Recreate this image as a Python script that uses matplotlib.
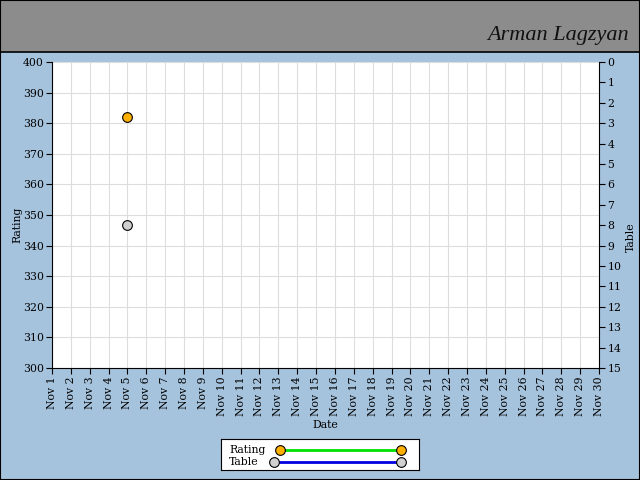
import matplotlib
matplotlib.use("Agg")
import matplotlib.pyplot as plt
from matplotlib.lines import Line2D
from matplotlib.patches import Rectangle

# data
days = list(range(1, 31))
day_labels = ["Nov %d" % d for d in days]
rating_days = [5]
rating_values = [382]
table_days = [5]
table_values = [8]

bg = "#a6c3dd"
header_gray = "#8c8c8c"
font = "DejaVu Serif"
fs = 7.8

fig = plt.figure(figsize=(6.4, 4.8), dpi=100, facecolor=bg)

# header band with name
fig.patches.append(Rectangle((0, 1 - 52 / 480), 1, 52 / 480, transform=fig.transFigure,
                             facecolor=header_gray, edgecolor="black", linewidth=1.2, zorder=0))
fig.patches.append(Rectangle((0, 0), 1, 1, transform=fig.transFigure,
                             facecolor="none", edgecolor="black", linewidth=1.5, zorder=5))
fig.text(0.983, 1 - 40 / 480, "Arman Lagzyan", ha="right", va="baseline",
         fontsize=16, family="Liberation Serif", style="italic", color="#111111")

ax = fig.add_axes([52 / 640, 1 - 368 / 480, 547 / 640, 306 / 480])
ax.set_facecolor("white")
ax.set_xlim(1, 30)
ax.set_ylim(300, 400)
ax.set_xticks(days)
ax.set_xticklabels(day_labels, rotation=90, fontsize=fs, family=font)
ax.set_yticks(range(300, 401, 10))
ax.tick_params(axis="y", labelsize=fs, direction="out", length=4, pad=2)
ax.tick_params(axis="x", direction="out", length=4, pad=2)
for lab in ax.get_yticklabels():
    lab.set_family(font)
ax.grid(True, color="#dddddd", linewidth=0.8)
ax.set_axisbelow(True)
ax.spines["top"].set_visible(False)
ax.spines["right"].set_visible(False)
ax.set_xlabel("Date", fontsize=fs, family=font)
ax.xaxis.set_label_coords(0.5, -0.17)
ax.set_ylabel("Rating", fontsize=fs, family=font)
ax.yaxis.set_label_coords(-0.055, 0.467)

ax2 = ax.twinx()
ax2.set_ylim(15, 0)
ax2.set_yticks(range(0, 16))
ax2.tick_params(axis="y", labelsize=fs, direction="out", length=4, pad=2)
for lab in ax2.get_yticklabels():
    lab.set_family(font)
ax2.spines["top"].set_visible(False)
ax2.spines["left"].set_visible(False)
ax2.spines["bottom"].set_visible(False)
ax2.set_ylabel("Table", fontsize=fs, family=font)
ax2.yaxis.set_label_coords(1.05, 0.428)

ax.plot(rating_days, rating_values, color="#00e000", linewidth=2, marker="o",
        markersize=7, markerfacecolor="#ffb000", markeredgecolor="black",
        markeredgewidth=0.8, zorder=5, clip_on=False)
ax2.plot(table_days, table_values, color="#0000e0", linewidth=2, marker="o",
         markersize=7, markerfacecolor="#d0d0d0", markeredgecolor="black",
         markeredgewidth=0.8, zorder=5, clip_on=False)

# legend box
lg = fig.add_axes([221 / 640, 1 - 470 / 480, 198 / 640, 31 / 480])
lg.set_xlim(221, 419)
lg.set_ylim(470, 439)
lg.set_xticks([])
lg.set_yticks([])
lg.set_facecolor("white")
for s in lg.spines.values():
    s.set_linewidth(0.8)
lg.text(229, 450, "Rating", va="center", ha="left", fontsize=fs, family=font)
lg.text(229, 462, "Table", va="center", ha="left", fontsize=fs, family=font)
lg.add_line(Line2D([280, 401], [450, 450], color="#00e000", linewidth=2, marker="o",
                   markersize=7, markerfacecolor="#ffb000", markeredgecolor="black",
                   markeredgewidth=0.8))
lg.add_line(Line2D([274, 401], [462, 462], color="#0000e0", linewidth=2, marker="o",
                   markersize=7, markerfacecolor="#d0d0d0", markeredgecolor="black",
                   markeredgewidth=0.8))

fig.savefig("out.png", dpi=100, facecolor=bg)
